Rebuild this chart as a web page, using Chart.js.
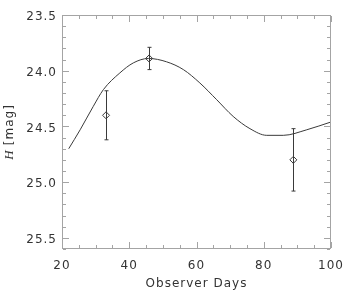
<!DOCTYPE html>
<html>
<head>
<meta charset="utf-8">
<script src="https://cdn.jsdelivr.net/npm/chart.js@4"></script>
<style>
    html, body { margin: 0; padding: 0; background: #fff; }
    #wrap { width: 349px; height: 291px; }
</style>
</head>
<body>
<div id="wrap"><canvas id="lightcurve"></canvas></div>
<script>
// Model light curve
const modelDays = [22.0, 25.4, 29.3, 32.3, 37.2, 41.2, 45.7, 51.1, 56.1, 61.0, 66.0, 70.9, 75.9, 80.9, 85.8, 92.8, 100.0];
const modelMag = [24.70, 24.53, 24.32, 24.17, 24.02, 23.93, 23.89, 23.92, 23.99, 24.11, 24.26, 24.41, 24.52, 24.58, 24.58, 24.53, 24.46];

// Observations with 1-sigma errors
const obsDays = [33.1, 45.9, 88.8];
const obsMag = [24.40, 23.89, 24.80];
const obsErr = [0.22, 0.10, 0.28];

// Axis ticks
const xTicks = [20, 40, 60, 80, 100];
const yTicks = [23.5, 24.0, 24.5, 25.0, 25.5];

const axisColor = '#a4a4a4';
const inkColor = '#3a3a3a';
const labelColor = '#333';

// IDL-like wide spacing for the labels
function setSpacing(chart) {
    chart.ctx.letterSpacing = '1px';
}

/**
 * Box frame with inward major/minor ticks on all four sides
 */
function drawFrame(chart) {
    const c = chart.ctx;
    const a = chart.chartArea;
    const x = chart.scales.x;
    const y = chart.scales.y;
    const l = Math.round(a.left), r = Math.round(a.right) - 1;
    const t = Math.round(a.top), b = Math.round(a.bottom) - 1;
    c.save();
    c.fillStyle = axisColor;
    // frame as 1px filled rects
    c.fillRect(l, t, r - l + 1, 1);
    c.fillRect(l, b, r - l + 1, 1);
    c.fillRect(l, t, 1, b - t + 1);
    c.fillRect(r, t, 1, b - t + 1);
    for (let d = 20; d <= 100; d += 5) {
        const px = Math.round(x.getPixelForValue(d));
        const len = xTicks.includes(d) ? 6 : 3;
        c.fillRect(px, b - len, 1, len);
        c.fillRect(px, t + 1, 1, len);
    }
    for (let i = 0; i <= 21; i++) {
        const py = Math.round(y.getPixelForValue(23.5 + i * 0.1));
        const len = (i % 5 === 0) ? 6 : 3;
        c.fillRect(l + 1, py, len, 1);
        c.fillRect(r - len, py, len, 1);
    }
    c.restore();
}

function drawErrors(chart) {
    const c = chart.ctx;
    const x = chart.scales.x;
    const y = chart.scales.y;
    c.save();
    c.strokeStyle = inkColor;
    c.lineWidth = 1;
    c.beginPath();
    obsDays.forEach((d, i) => {
        const px = Math.round(x.getPixelForValue(d)) + 0.5;
        const top = y.getPixelForValue(obsMag[i] - obsErr[i]);
        const bot = y.getPixelForValue(obsMag[i] + obsErr[i]);
        c.moveTo(px, top); c.lineTo(px, bot);
        c.moveTo(px - 2, top); c.lineTo(px + 2, top);
        c.moveTo(px - 2, bot); c.lineTo(px + 2, bot);
    });
    c.stroke();
    c.restore();
}

// y title: italic H followed by [mag]
function drawYTitle(chart) {
    const c = chart.ctx;
    const a = chart.chartArea;
    c.save();
    c.translate(10, (a.top + a.bottom) / 2);
    c.rotate(-Math.PI / 2);
    c.fillStyle = labelColor;
    c.textBaseline = 'middle';
    c.textAlign = 'left';
    c.letterSpacing = '1px';
    const hFont = 'italic 13px "Liberation Serif"';
    const mFont = '12px "DejaVu Sans"';
    c.font = hFont;
    const wH = c.measureText('H ').width;
    c.font = mFont;
    const wM = c.measureText('[mag]').width;
    const start = -(wH + wM) / 2;
    c.font = hFont;
    c.fillText('H ', start, 0);
    c.font = mFont;
    c.fillText('[mag]', start + wH, 0);
    c.restore();
}

const idlStyle = {
    id: 'idlStyle',
    beforeLayout: setSpacing,
    beforeDraw: setSpacing,
    afterDraw(chart) {
        drawFrame(chart);
        drawErrors(chart);
        drawYTitle(chart);
    }
};

const canvas = document.getElementById('lightcurve');

new Chart(canvas, {
    type: 'line',
    data: {
        datasets: [
            {
                label: 'Model',
                data: modelDays.map((d, i) => ({ x: d, y: modelMag[i] })),
                borderColor: inkColor,
                borderWidth: 1,
                pointRadius: 0,
                cubicInterpolationMode: 'monotone',
                fill: false
            },
            {
                label: 'Observed',
                data: obsDays.map((d, i) => ({ x: d, y: obsMag[i] })),
                showLine: false,
                pointStyle: 'rectRot',
                pointRadius: 3.5,
                pointBorderWidth: 1,
                pointBorderColor: inkColor,
                pointBackgroundColor: 'rgba(0,0,0,0)'
            }
        ]
    },
    options: {
        responsive: true,
        maintainAspectRatio: false,
        animation: false,
        layout: {
            padding: { top: 15, right: 18, left: 0, bottom: 0 }
        },
        plugins: {
            legend: { display: false },
            tooltip: { enabled: false }
        },
        scales: {
            x: {
                type: 'linear',
                min: 20,
                max: 100,
                grid: { display: false, drawTicks: false },
                border: { display: false },
                afterBuildTicks: s => { s.ticks = xTicks.map(v => ({ value: v })); },
                afterFit: s => { s.height = 42; s.paddingLeft = 0; s.paddingRight = 0; },
                ticks: {
                    color: labelColor,
                    font: { family: '"DejaVu Sans"', size: 12 },
                    padding: 10,
                    maxRotation: 0
                },
                title: {
                    display: true,
                    text: 'Observer Days',
                    color: labelColor,
                    font: { family: '"DejaVu Sans"', size: 12, lineHeight: 1 },
                    padding: { top: 0, bottom: 1 }
                }
            },
            y: {
                type: 'linear',
                reverse: true,
                min: 23.5,
                max: 25.6,
                grid: { display: false, drawTicks: false },
                border: { display: false },
                afterBuildTicks: s => { s.ticks = yTicks.map(v => ({ value: v })); },
                afterFit: s => { s.width = 62; s.paddingTop = 0; s.paddingBottom = 0; },
                ticks: {
                    color: labelColor,
                    font: { family: '"DejaVu Sans"', size: 12 },
                    padding: 5,
                    labelOffset: 2,
                    callback: v => v.toFixed(1)
                }
            }
        }
    },
    plugins: [idlStyle]
});
</script>
</body>
</html>
